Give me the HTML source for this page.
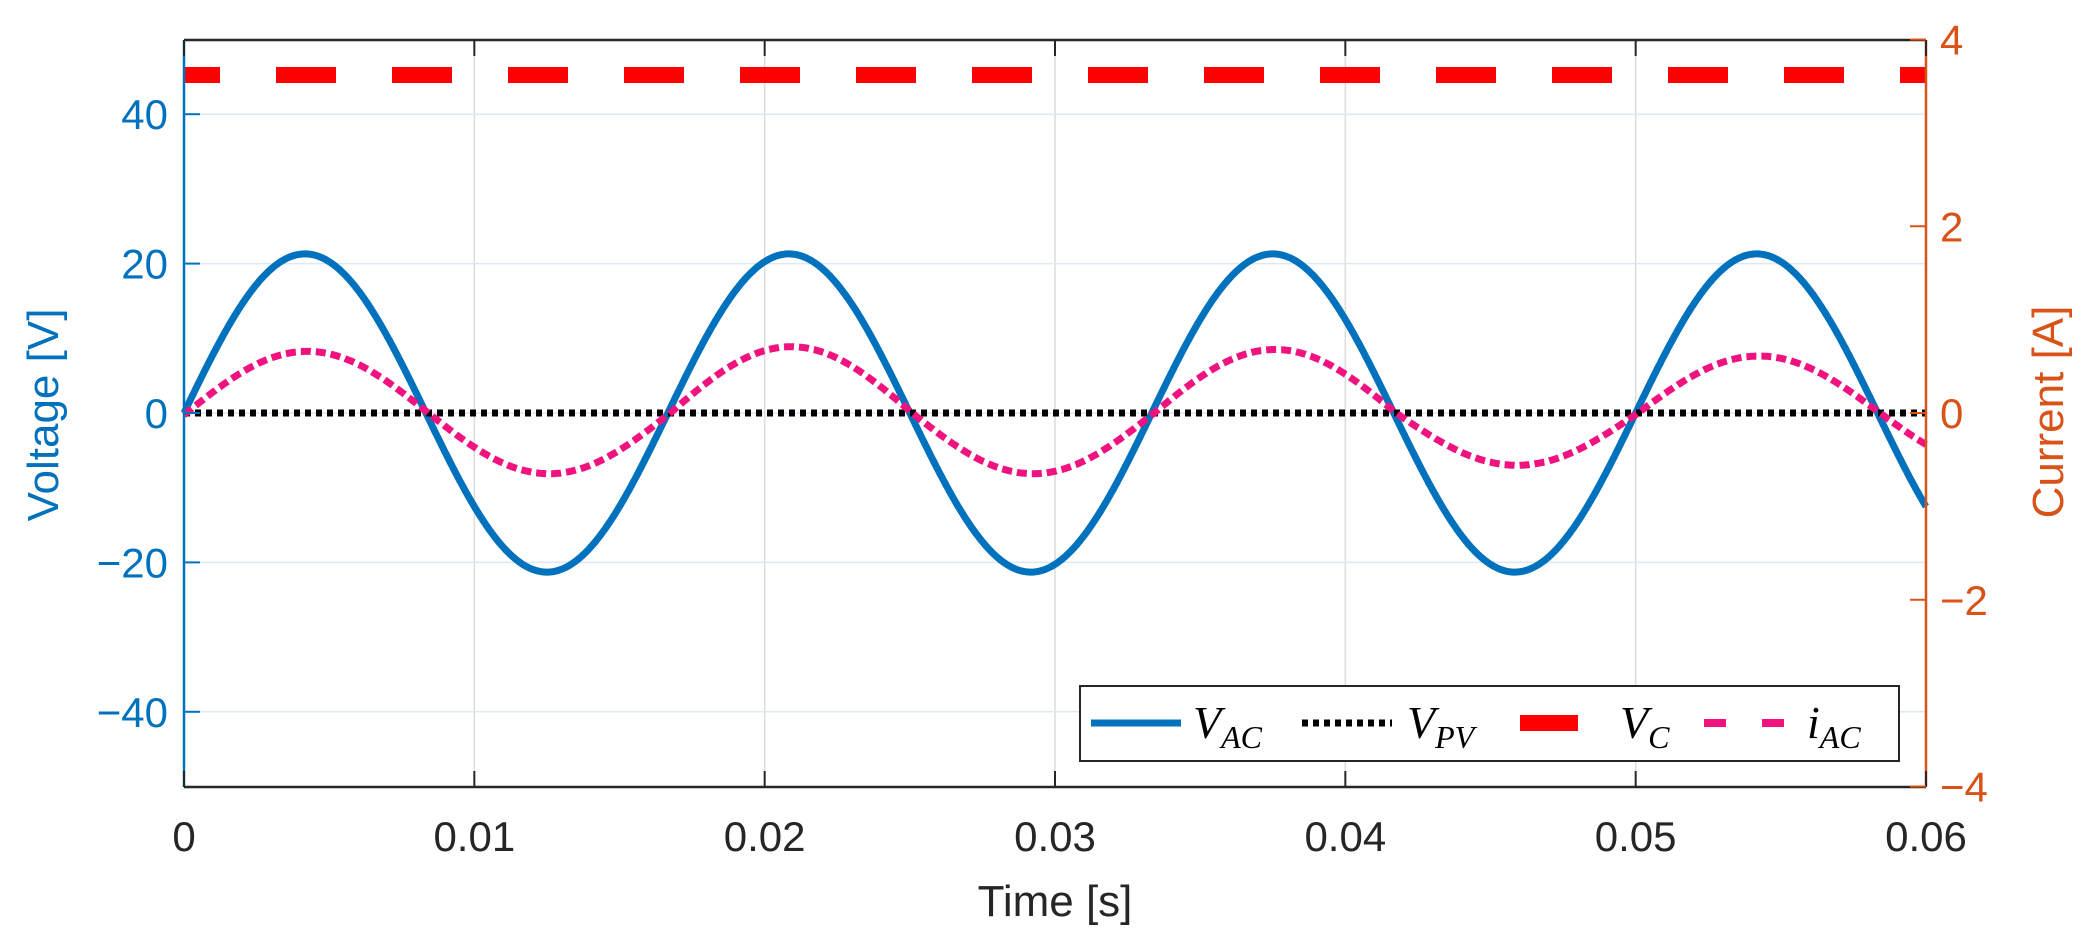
<!DOCTYPE html>
<html><head><meta charset="utf-8"><style>
html,body{margin:0;padding:0;background:#fff;}
svg{display:block;}
text{font-family:"Liberation Sans",Arial,sans-serif;}
.lg{font-family:"Liberation Serif","DejaVu Serif",serif;font-style:italic;}
</style></head><body>
<svg id="s" width="2091" height="946" xmlns="http://www.w3.org/2000/svg">
<rect width="2091" height="946" fill="#fff"/>
<g id="grid"></g>
<g id="series"></g>
<!-- axes box -->
<line x1="184" y1="40" x2="1926" y2="40" stroke="#262626" stroke-width="2.5"/>
<line x1="184" y1="787" x2="1926" y2="787" stroke="#262626" stroke-width="2.5"/>
<line x1="184" y1="40" x2="184" y2="787" stroke="#0072BD" stroke-width="2.5"/>
<line x1="1926" y1="40" x2="1926" y2="787" stroke="#D95319" stroke-width="2.5"/>
<g id="ticks"></g>
<text x="1055" y="916" font-size="44" fill="#262626" text-anchor="middle">Time [s]</text>
<text transform="translate(58,415) rotate(-90)" font-size="44" fill="#0072BD" text-anchor="middle">Voltage [V]</text>
<text transform="translate(2063,412) rotate(-90)" font-size="44" fill="#D95319" text-anchor="middle">Current [A]</text>
<!-- legend -->
<rect x="1080" y="686" width="819" height="75" fill="#fff" stroke="#262626" stroke-width="2"/>
<line x1="1091" y1="723" x2="1181" y2="723" stroke="#0072BD" stroke-width="7"/>
<text class="lg" x="1193" y="738" font-size="46" fill="#000">V<tspan font-size="32" dy="10">AC</tspan></text>
<line x1="1302" y1="723" x2="1392" y2="723" stroke="#000" stroke-width="7" stroke-dasharray="6,5"/>
<text class="lg" x="1407" y="738" font-size="46" fill="#000">V<tspan font-size="32" dy="10">PV</tspan></text>
<line x1="1520" y1="723" x2="1578" y2="723" stroke="#f00" stroke-width="16"/>
<text class="lg" x="1620" y="738" font-size="46" fill="#000">V<tspan font-size="32" dy="10">C</tspan></text>
<line x1="1704" y1="723" x2="1800" y2="723" stroke="#f0137f" stroke-width="8" stroke-dasharray="22,36"/>
<text class="lg" x="1807" y="738" font-size="46" fill="#000">i<tspan font-size="32" dy="10">AC</tspan></text>
</svg>
<script>
(function(){
var NS="http://www.w3.org/2000/svg";
function el(p,t,a,txt){var e=document.createElementNS(NS,t);for(var k in a)e.setAttribute(k,a[k]);if(txt!==undefined)e.textContent=txt;document.getElementById(p).appendChild(e);return e;}
var X=function(t){return 184+t/0.06*1742;};
var YV=function(v){return 413-v*7.47;};
var YI=function(i){return 413-i*12.5*7.47;};
// grid
for(var k=1;k<6;k++){var x=X(k*0.01);el("grid","line",{x1:x,y1:40,x2:x,y2:787,stroke:"#dcdcdc","stroke-width":1.5});}
[-40,-20,0,20,40].forEach(function(v){el("grid","line",{x1:184,y1:YV(v),x2:1926,y2:YV(v),stroke:"#dbe8f5","stroke-width":1.5});});
// ticks and labels
var xl=["0","0.01","0.02","0.03","0.04","0.05","0.06"];
for(var k=0;k<7;k++){var x=X(k*0.01);
 el("ticks","line",{x1:x,y1:787,x2:x,y2:771,stroke:"#262626","stroke-width":2});
 el("ticks","line",{x1:x,y1:40,x2:x,y2:56,stroke:"#262626","stroke-width":2});
 el("ticks","text",{x:x,y:851,"font-size":42,fill:"#262626","text-anchor":"middle"},xl[k]);}
[-40,-20,0,20,40].forEach(function(v){var y=YV(v);
 el("ticks","line",{x1:184,y1:y,x2:200,y2:y,stroke:"#0072BD","stroke-width":2});
 el("ticks","text",{x:168,y:y+15,"font-size":42,fill:"#0072BD","text-anchor":"end"},v<0?"\u2212"+(-v):""+v);});
[-4,-2,0,2,4].forEach(function(c){var y=YI(c);
 el("ticks","line",{x1:1910,y1:y,x2:1926,y2:y,stroke:"#D95319","stroke-width":2});
 el("ticks","text",{x:1940,y:y+15,"font-size":42,fill:"#D95319","text-anchor":"start"},c<0?"\u2212"+(-c):""+c);});
// series
var w=2*Math.PI*60,N=1500,pv="",pi="";
var A=[0.66,0.65,0.71,0.65,0.68,0.56,0.61,0.6];
for(var n=0;n<=N;n++){var t=0.06*n/N;
 pv+=(n?"L":"M")+X(t).toFixed(1)+","+YV(21.3*Math.sin(w*t)).toFixed(1);
 var h=Math.min(7,Math.floor(t/(1/120)));
 pi+=(n?"L":"M")+X(t).toFixed(1)+","+YI(A[h]*Math.sin(w*t-0.03)).toFixed(1);}
el("series","path",{d:pv,fill:"none",stroke:"#0072BD","stroke-width":7});
el("series","line",{x1:184,y1:413,x2:1926,y2:413,stroke:"#000","stroke-width":7,"stroke-dasharray":"6,5"});
el("series","path",{d:pi,fill:"none",stroke:"#f0137f","stroke-width":7,"stroke-dasharray":"10,5"});
el("series","line",{x1:184,y1:75,x2:1926,y2:75,stroke:"#f00","stroke-width":16,"stroke-dasharray":"60,56","stroke-dashoffset":"24"});
})();
</script>
</body></html>
